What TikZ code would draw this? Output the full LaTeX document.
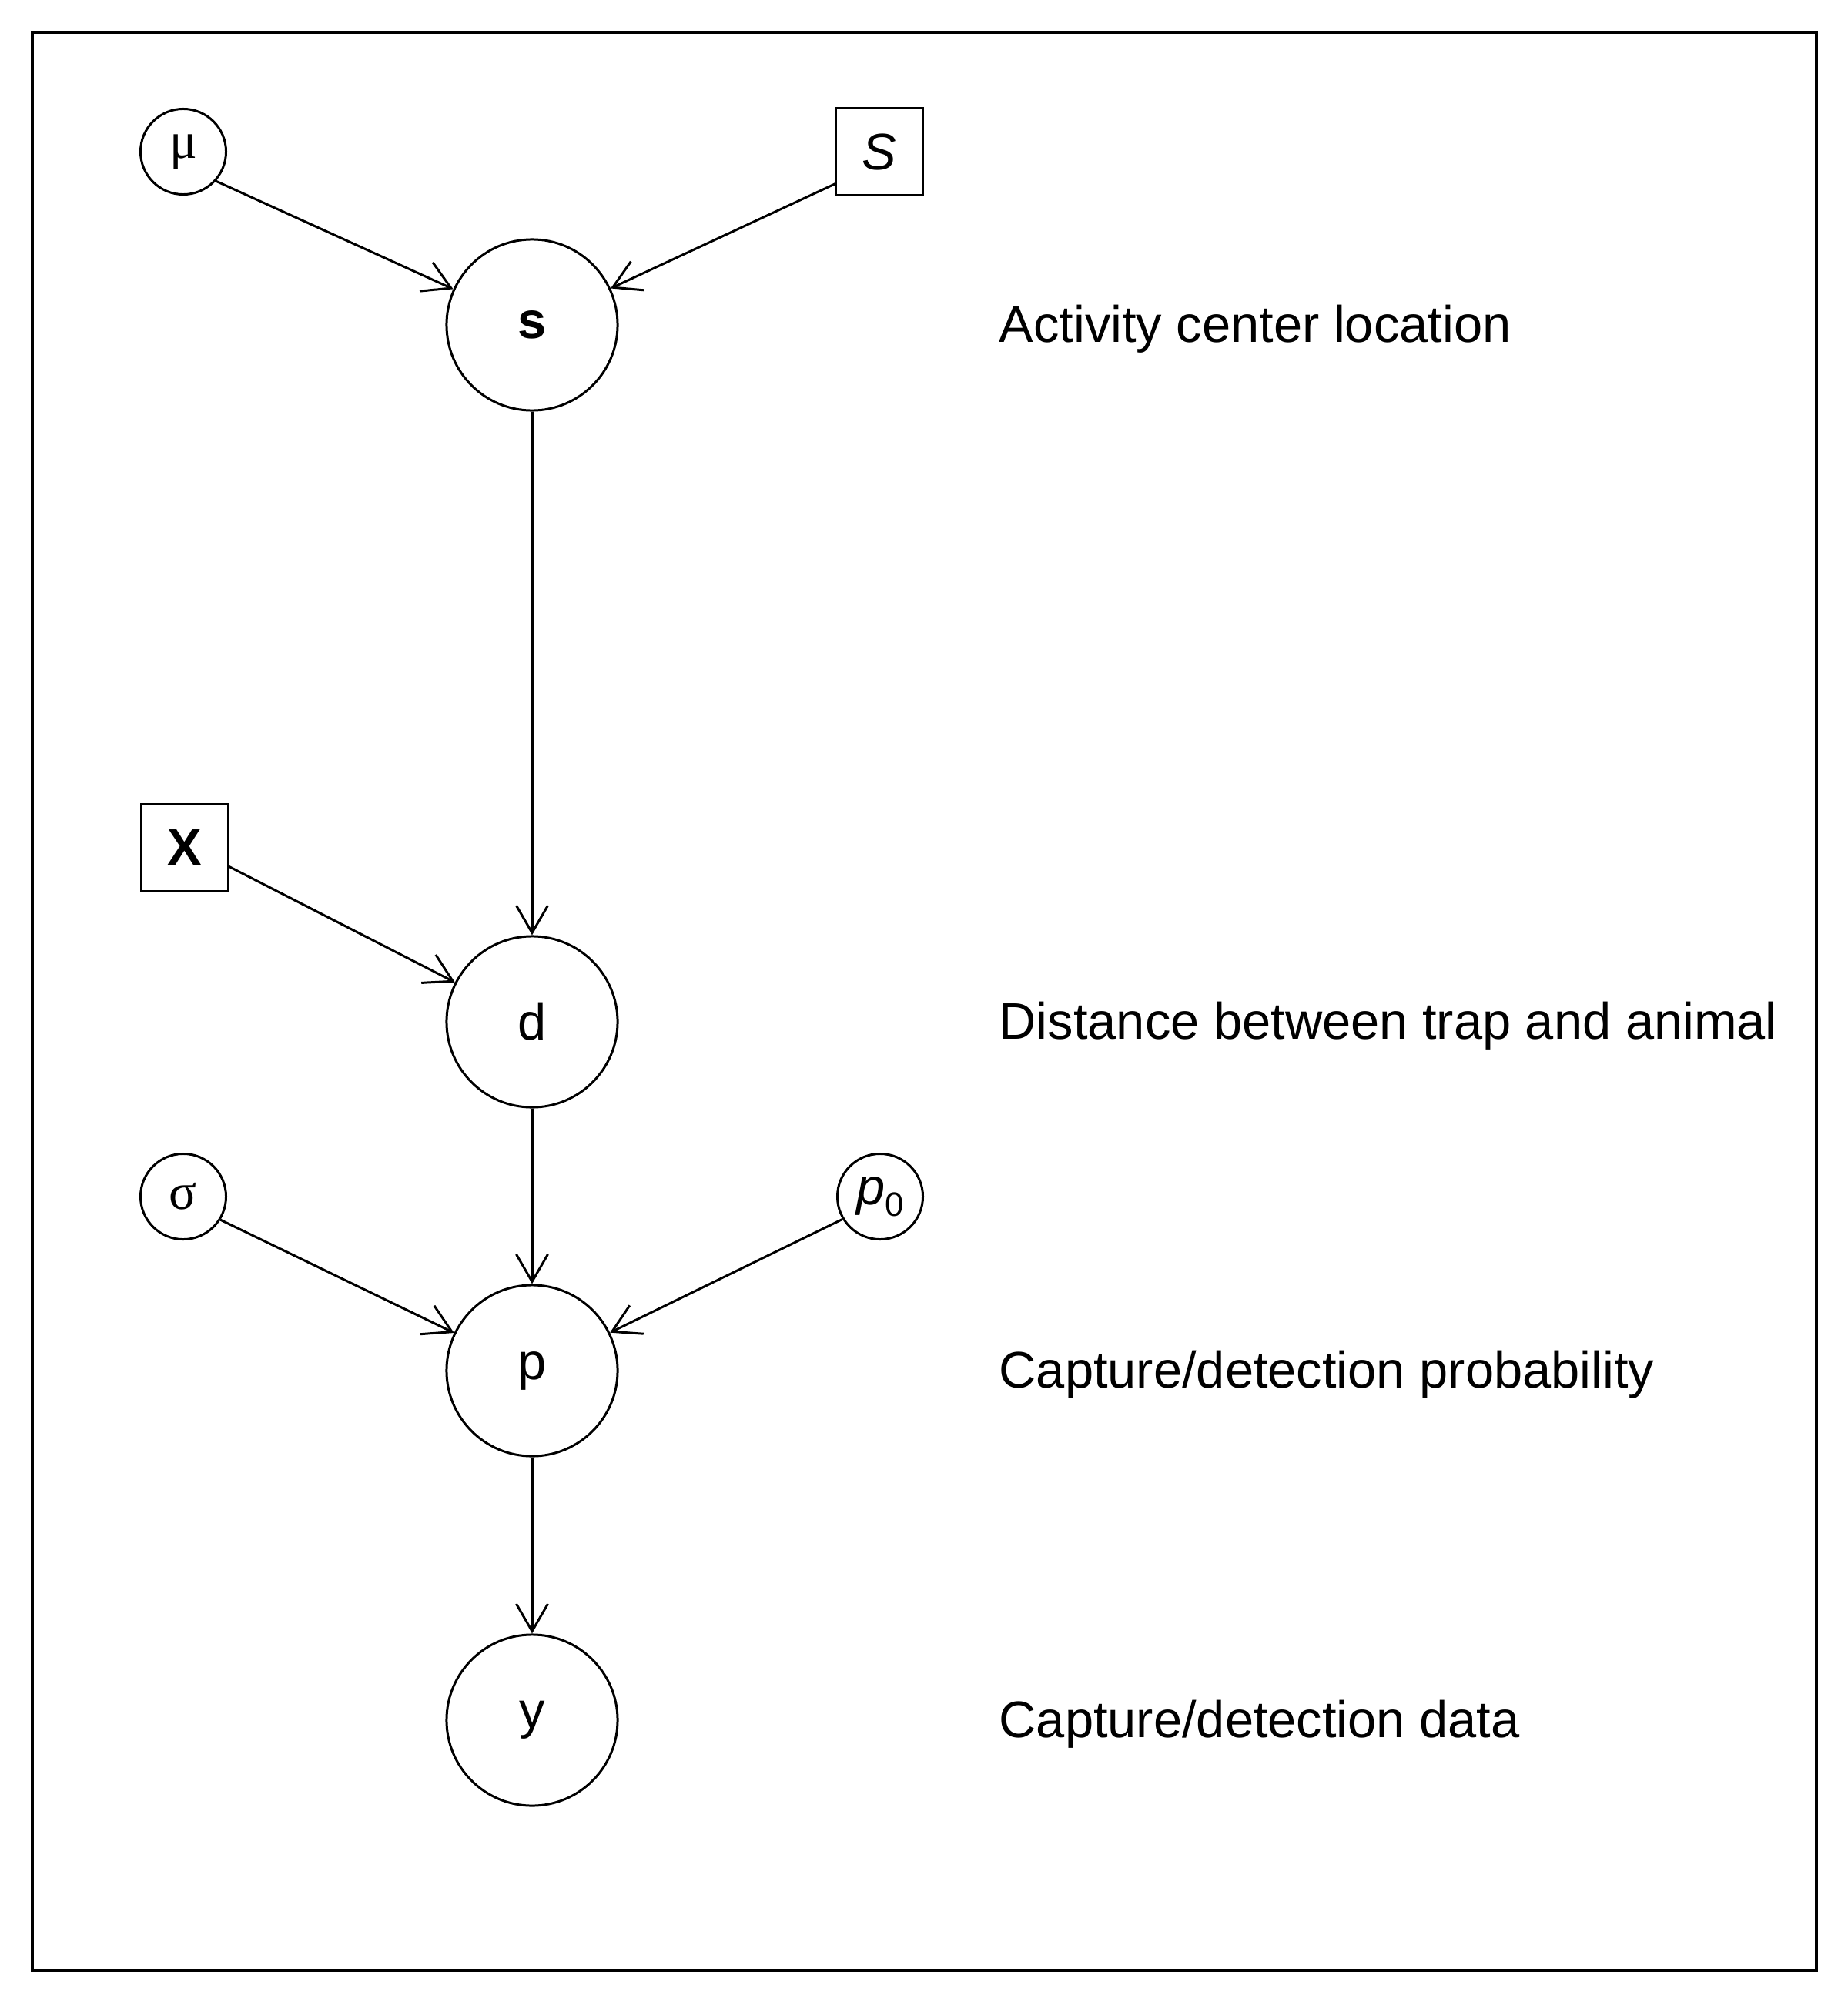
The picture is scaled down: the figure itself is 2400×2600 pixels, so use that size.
\documentclass[tikz,border=0pt]{standalone}
\usepackage{fontspec}
\setmainfont{Liberation Sans}
\newfontfamily\serifgreek{Liberation Serif}
\usetikzlibrary{arrows.meta}
\tikzset{
  bigc/.style={circle, draw, line width=0.85pt, minimum size=2.22cm, inner sep=0pt},
  smallc/.style={circle, draw, line width=0.85pt, minimum size=1.11cm, inner sep=0pt},
  sqbox/.style={rectangle, draw, line width=0.85pt, minimum size=1.12cm, inner sep=0pt},
  lab/.style={anchor=base west, inner sep=0pt},
  link/.style={line width=0.85pt, -{Straight Barb[length=0.355cm,width=0.41cm]}}
}
\begin{document}
\begin{tikzpicture}[x=0.01cm, y=-0.01cm, font=\fontsize{19}{23}\selectfont]
\useasboundingbox (0,0) rectangle (2400,2600);
\draw[line width=1.13pt] (42,42) rectangle (2359,2559);

\node[smallc] (mu) at (238,197) {\serifgreek μ};
\node[sqbox] (S) at (1142,197) {\itshape S};
\node[bigc] (s) at (691,422) {\bfseries s};
\node[sqbox] (X) at (240,1101) {\bfseries X};
\node[bigc] (d) at (691,1327) {d};
\node[smallc] (sigma) at (238,1554) {\serifgreek σ};
\node[smallc] (p0) at (1143,1554) {\itshape p\upshape\raisebox{-0.22em}{\fontsize{12.5}{13}\selectfont 0}};
\node[bigc] (p) at (691,1780) {p};
\node[bigc] (y) at (691,2234) {y};

\node[lab] (l1) at (1297,444) {Activity center location};
\node[lab] (l2) at (1297,1349) {Distance between trap and animal};
\node[lab] (l3) at (1297,1802) {Capture/detection probability};
\node[lab] (l4) at (1297,2256) {Capture/detection data};

\draw[link] (mu.-42) -- (s);
\draw[link] (S.216) -- (s);
\draw[link] (s) -- (d);
\draw[link] (X.-23) -- (d);
\draw[link] (d) -- (p);
\draw[link] (sigma.-32) -- (p);
\draw[link] (p0.211) -- (p);
\draw[link] (p) -- (y);
\end{tikzpicture}
\end{document}
